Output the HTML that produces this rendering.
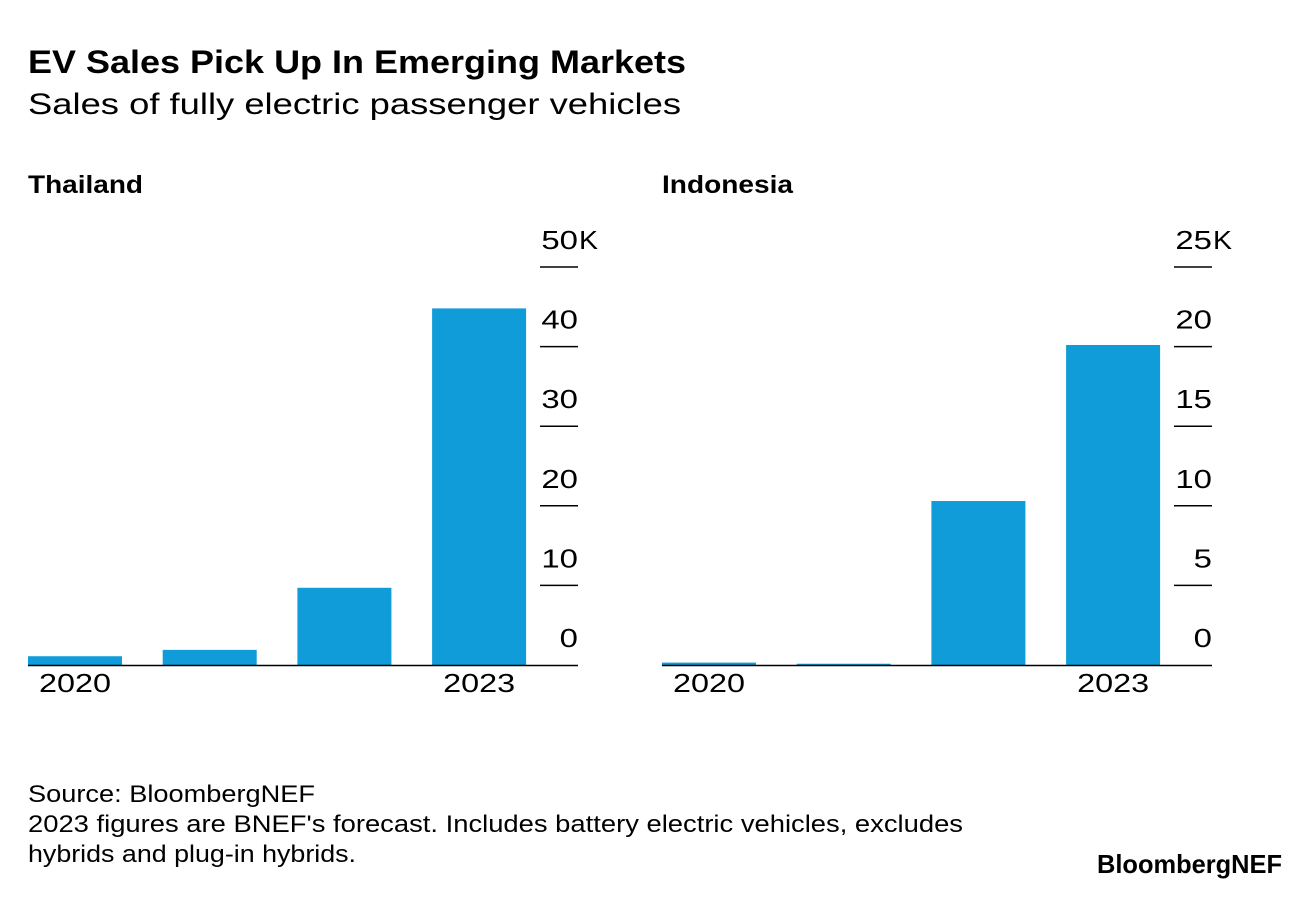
<!DOCTYPE html>
<html><head><meta charset="utf-8"><style>
body{margin:0;background:#fff;font-family:"Liberation Sans",Arial,sans-serif;color:#000}
</style></head><body>
<svg width="1296" height="892" xmlns="http://www.w3.org/2000/svg" font-family="Liberation Sans, Arial, sans-serif">
<text x="28" y="73" font-size="32" font-weight="bold" textLength="658" lengthAdjust="spacingAndGlyphs">EV Sales Pick Up In Emerging Markets</text>
<text x="28" y="114" font-size="30" textLength="653" lengthAdjust="spacingAndGlyphs">Sales of fully electric passenger vehicles</text>
<text x="28" y="193" font-size="25" font-weight="bold" textLength="115" lengthAdjust="spacingAndGlyphs">Thailand</text>
<text x="662" y="193" font-size="25" font-weight="bold" textLength="131" lengthAdjust="spacingAndGlyphs">Indonesia</text>
<g id="p1"></g>
<g id="p2"></g>
<text x="28" y="802" font-size="24" textLength="287" lengthAdjust="spacingAndGlyphs">Source: BloombergNEF</text>
<text x="28" y="832" font-size="24" textLength="935" lengthAdjust="spacingAndGlyphs">2023 figures are BNEF's forecast. Includes battery electric vehicles, excludes</text>
<text x="28" y="862" font-size="24" textLength="328" lengthAdjust="spacingAndGlyphs">hybrids and plug-in hybrids.</text>
<text x="1097" y="873" font-size="26" font-weight="bold" textLength="185" lengthAdjust="spacingAndGlyphs">BloombergNEF</text>
</svg>
<script>
const years = ["2020","2021","2022","2023"];
const thailandSales = [1.1, 1.9, 9.7, 44.8];
const indonesiaSales = [0.15, 0.08, 10.3, 20.1];
const thailandTicks = [0,10,20,30,40,50];
const indonesiaTicks = [0,5,10,15,20,25];
const NS="http://www.w3.org/2000/svg";
const DW=18.3;
function el(g,t,a){const e=document.createElementNS(NS,t);for(const k in a)e.setAttribute(k,a[k]);g.appendChild(e);return e;}
function panel(gid,x0,axisEnd,vals,ticks,prefix){
  const g=document.getElementById(gid);
  const base=665, top=267, max=ticks[ticks.length-1];
  const y=v=>base-(v/max)*(base-top);
  const step=134.7, bw=94;
  vals.forEach((v,i)=>{
    const r=el(g,'rect',{x:x0+i*step,y:y(v),width:bw,height:base-y(v),fill:'#0f9cd9'});
    
    
  });
  ticks.forEach((t,i)=>{
    if(t>0){
      const l=el(g,'line',{x1:axisEnd-38,x2:axisEnd,y1:y(t),y2:y(t),stroke:'#000','stroke-width':1.5});
      
      
    }
    const s=String(t);
    const tx=el(g,'text',{x:axisEnd-s.length*DW,y:y(t)-18,'font-size':26,textLength:s.length*DW,lengthAdjust:'spacingAndGlyphs'});
    tx.textContent=s;
    
    
    if(i===ticks.length-1){
      const k=el(g,'text',{x:axisEnd+1,y:y(t)-18,'font-size':26,textLength:19,lengthAdjust:'spacingAndGlyphs'});
      k.textContent='K';
      
      
    }
  });
  const ax=el(g,'line',{x1:x0,x2:axisEnd,y1:base+0.5,y2:base+0.5,stroke:'#000','stroke-width':1.5});
  
  
  [0,3].forEach(i=>{
    const t=el(g,'text',{x:x0+i*step+bw/2-36,y:base+27,'font-size':26,textLength:72,lengthAdjust:'spacingAndGlyphs'});
    t.textContent=years[i];
    
    
  });
}
panel('p1',28,578,thailandSales,thailandTicks,'thailand');
panel('p2',662,1212,indonesiaSales,indonesiaTicks,'indonesia');
</script>
</body></html>
